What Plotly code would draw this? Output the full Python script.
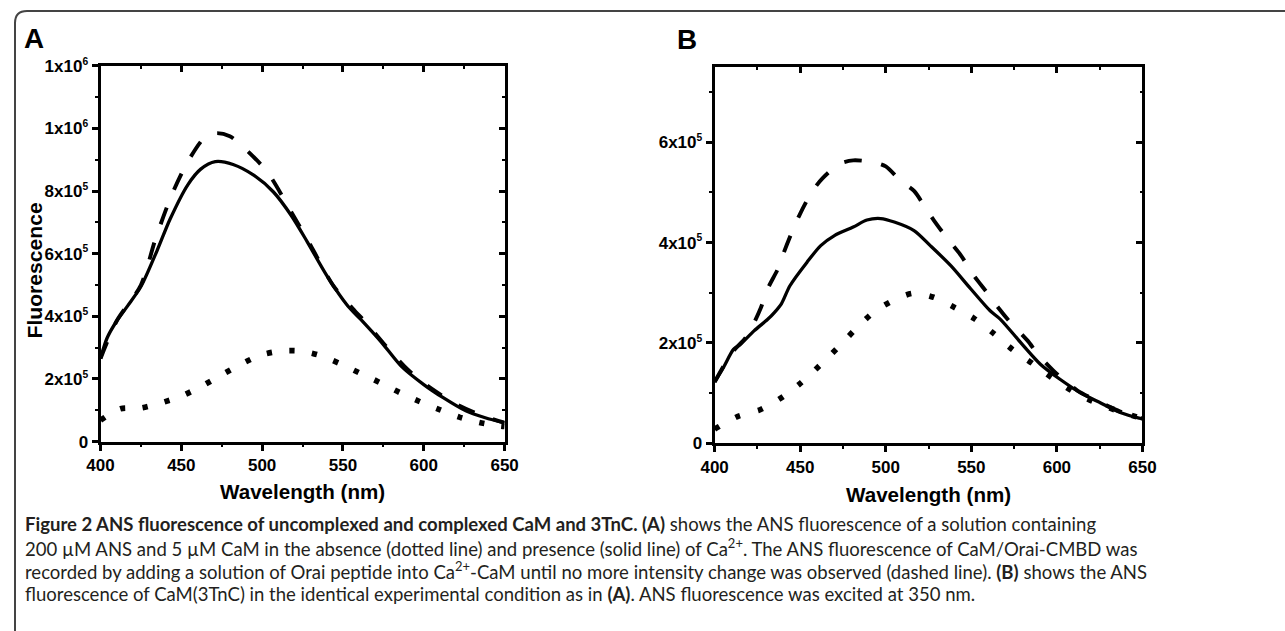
import plotly.graph_objects as go

# ---------------- data ----------------
# Panel A (CaM)
a_solid_x = [400, 404, 410, 417, 425, 435, 443, 454, 462, 471, 482, 495, 507, 518, 528, 540, 553, 561, 574, 586, 600, 612, 626, 638, 650]
a_solid_y = [2.65e5, 3.3e5, 3.85e5, 4.35e5, 4.95e5, 6.1e5, 7.1e5, 8.2e5, 8.7e5, 8.94e5, 8.85e5, 8.5e5, 7.97e5, 7.22e5, 6.37e5,
             5.3e5, 4.33e5, 3.9e5, 3.16e5, 2.41e5, 1.82e5, 1.4e5, 0.98e5, 0.76e5, 0.6e5]
a_dash_x = [400, 410, 425, 434, 444, 454, 465, 472, 480, 487, 503, 518, 530, 544, 556, 565, 575, 590, 605, 620, 635, 650]
a_dash_y = [2.65e5, 3.85e5, 5.0e5, 6.47e5, 7.87e5, 8.94e5, 9.74e5, 9.85e5, 9.75e5, 9.47e5, 8.62e5, 7.33e5, 6.26e5, 4.98e5,
            4.25e5, 3.75e5, 3.14e5, 2.3e5, 1.68e5, 1.2e5, 0.85e5, 0.6e5]
a_dot_x = [400, 412.4, 424.8, 437.1, 449.5, 461.9, 474.3, 486.6, 499, 511.4, 523.8, 535.7, 548.1, 560.3, 572.6, 585, 597.3,
           609.7, 622, 634.4, 646.4, 650]
a_dot_y = [0.68e5, 1.05e5, 1.07e5, 1.23e5, 1.44e5, 1.75e5, 2.11e5, 2.46e5, 2.76e5, 2.89e5, 2.89e5, 2.75e5, 2.49e5, 2.19e5,
           1.89e5, 1.57e5, 1.28e5, 1.02e5, 0.78e5, 0.61e5, 0.5e5, 0.48e5]

# Panel B (CaM(3TnC))
b_solid_x = [400, 405, 411, 415, 423, 431, 435, 439, 444, 454, 462, 470, 481, 489, 497, 505, 516.5, 526, 538, 549.6, 561, 567,
             579, 590.5, 602, 614, 625.6, 637, 648, 650]
b_solid_y = [1.22e5, 1.5e5, 1.87e5, 1.97e5, 2.24e5, 2.47e5, 2.61e5, 2.78e5, 3.14e5, 3.61e5, 3.94e5, 4.14e5, 4.31e5, 4.45e5,
             4.48e5, 4.41e5, 4.24e5, 3.94e5, 3.54e5, 3.08e5, 2.64e5, 2.47e5, 2.0e5, 1.57e5, 1.27e5, 1.0e5, 0.8e5, 0.61e5,
             0.5e5, 0.49e5]
b_dash_x = [400, 410, 418, 423, 427, 431, 437, 440.5, 446, 450, 457, 463, 473, 481, 493, 500, 509, 516.5, 524, 528, 536, 544,
            551.5, 559, 566, 572, 583, 589, 600, 612, 625, 637, 650]
b_dash_y = [1.22e5, 1.8e5, 2.1e5, 2.4e5, 2.7e5, 3.08e5, 3.48e5, 3.81e5, 4.28e5, 4.58e5, 5.02e5, 5.28e5, 5.57e5, 5.64e5, 5.6e5,
            5.52e5, 5.22e5, 5.03e5, 4.65e5, 4.45e5, 4.08e5, 3.74e5, 3.34e5, 3.01e5, 2.69e5, 2.44e5, 2.04e5, 1.77e5, 1.38e5,
            1.05e5, 0.82e5, 0.63e5, 0.49e5]
b_dot_x = [400, 413.3, 425.3, 437.4, 449.3, 461.4, 471.5, 481.4, 492.5, 504, 516, 528, 540, 551.5, 563, 574, 585.7, 597.4,
           610, 622, 635, 650]
b_dot_y = [0.28e5, 0.53e5, 0.65e5, 0.87e5, 1.17e5, 1.55e5, 1.89e5, 2.24e5, 2.6e5, 2.84e5, 2.99e5, 2.91e5, 2.71e5, 2.49e5,
           2.19e5, 1.87e5, 1.59e5, 1.3e5, 1.02e5, 0.82e5, 0.65e5, 0.49e5]

x_ticks = [400, 450, 500, 550, 600, 650]
a_y_ticks = [0, 2e5, 4e5, 6e5, 8e5, 1.0e6, 1.2e6]
a_y_labels = [("0", ""), ("2x10", "5"), ("4x10", "5"), ("6x10", "5"), ("8x10", "5"), ("1x10", "6"), ("1x10", "6")]
b_y_ticks = [0, 2e5, 4e5, 6e5]
b_y_labels = [("0", ""), ("2x10", "5"), ("4x10", "5"), ("6x10", "5")]

x_title = "Wavelength (nm)"
y_title = "Fluorescence"
caption_lines = [
    "<b>Figure 2 ANS fluorescence of uncomplexed and complexed CaM and 3TnC. (A)</b> shows the ANS fluorescence of a solution containing",
    "200 µM ANS and 5 µM CaM in the absence (dotted line) and presence (solid line) of Ca<sup>2+</sup>. The ANS fluorescence of CaM/Orai-CMBD was",
    "recorded by adding a solution of Orai peptide into Ca<sup>2+</sup>-CaM until no more intensity change was observed (dashed line). <b>(B)</b> shows the ANS",
    "fluorescence of CaM(3TnC) in the identical experimental condition as in <b>(A)</b>. ANS fluorescence was excited at 350 nm.",
]

# ---------------- layout geometry ----------------
# The page is photographed with a small border and rescaled; positions below are
# given in reference-picture pixels and mapped back to figure pixels.
FW, FH = 1285, 631
SX, SY, OX, OY = 0.978, 0.963, 13.5, 12.5
S = (SX + SY) / 2
def fx(x):
    return (x - OX) / SX
def fy(y):
    return (y - OY) / SY
def px(x):
    return fx(x) / FW
def py(y):
    return 1 - fy(y) / FH
def sz(v):
    return v / S

def sci_label(mant, exp):
    if not exp:
        return mant
    return f"{mant}<sup><span style='font-size:{sz(10):.1f}px'>{exp}</span></sup>"

a_y_text = [sci_label(m, e) for m, e in a_y_labels]
b_y_text = [sci_label(m, e) for m, e in b_y_labels]

AX = dict(l=100, r=504, t=68, b=441.7)
BX = dict(l=714, r=1141.7, t=69.3, b=443.3)

ARIAL = "Liberation Sans, Arial, sans-serif"
tickfont = dict(family=ARIAL, size=sz(16.5), color="black", weight="bold")

fig = go.Figure()

def dash(on, off):
    return f"{sz(on):.1f}px,{sz(off):.1f}px"

def add_panel(xs, ys, dashes, xa, ya):
    for x, y, (d, width) in zip(xs, ys, dashes):
        fig.add_trace(go.Scatter(x=x, y=y, mode="lines", xaxis=xa, yaxis=ya, showlegend=False,
                                 line=dict(color="black", width=sz(width), dash=d, shape="spline", smoothing=0.8),
                                 hoverinfo="skip"))

add_panel([a_solid_x, a_dash_x, a_dot_x], [a_solid_y, a_dash_y, a_dot_y],
          [("solid", 3.2), (dash(17, 19), 3.8), (dash(5, 17), 5.5)], "x", "y")
add_panel([b_solid_x, b_dash_x, b_dot_x], [b_solid_y, b_dash_y, b_dot_y],
          [("solid", 3.2), (dash(17, 19), 3.8), (dash(5, 18), 5.5)], "x2", "y2")

# empty helper traces so the mirrored (top / right) axes with inward ticks get drawn
fig.add_trace(go.Scatter(x=[], y=[], xaxis="x3", yaxis="y3", showlegend=False, hoverinfo="skip"))
fig.add_trace(go.Scatter(x=[], y=[], xaxis="x4", yaxis="y4", showlegend=False, hoverinfo="skip"))

LW, TL, TW, ML, MW = sz(2.5), sz(6), sz(2.5), sz(3), sz(2)

def xaxis_main(dom, anchor):
    return dict(domain=dom, anchor=anchor, range=[400, 650], tickvals=x_ticks, ticks="outside", ticklen=TL, tickwidth=TW,
                tickcolor="black", showline=True, linewidth=LW, linecolor="black", mirror=False, showgrid=False,
                zeroline=False, tickfont=tickfont,
                minor=dict(ticks="outside", ticklen=ML, tickwidth=MW, dtick=25, tick0=400, tickcolor="black", showgrid=False))

def xaxis_top(over, anchor):
    return dict(overlaying=over, anchor=anchor, side="top", range=[400, 650], tickvals=x_ticks, ticks="inside", ticklen=TL,
                tickwidth=TW, tickcolor="black", showline=True, linewidth=LW, linecolor="black", showgrid=False,
                zeroline=False, showticklabels=False,
                minor=dict(ticks="inside", ticklen=ML, tickwidth=MW, dtick=25, tick0=400, tickcolor="black", showgrid=False))

def yaxis_main(dom, anchor, rng, tv, tt):
    return dict(domain=dom, anchor=anchor, range=rng, tickvals=tv, ticktext=tt, ticks="outside", ticklen=TL, tickwidth=TW,
                tickcolor="black", showline=True, linewidth=LW, linecolor="black", showgrid=False, zeroline=False,
                tickfont=tickfont,
                minor=dict(ticks="outside", ticklen=ML, tickwidth=MW, dtick=1e5, tick0=0, tickcolor="black", showgrid=False))

def yaxis_right(over, anchor, rng, tv):
    return dict(overlaying=over, anchor=anchor, side="right", range=rng, tickvals=tv, ticks="inside", ticklen=TL,
                tickwidth=TW, tickcolor="black", showline=True, linewidth=LW, linecolor="black", showgrid=False,
                zeroline=False, showticklabels=False,
                minor=dict(ticks="inside", ticklen=ML, tickwidth=MW, dtick=1e5, tick0=0, tickcolor="black", showgrid=False))

fig.update_layout(
    width=FW, height=FH, autosize=False, margin=dict(l=0, r=0, t=0, b=0, pad=0),
    paper_bgcolor="white", plot_bgcolor="white",
    xaxis=xaxis_main([px(AX["l"]), px(AX["r"])], "y"),
    yaxis=yaxis_main([py(AX["b"]), py(AX["t"])], "x", [0, 1.2e6], a_y_ticks, a_y_text),
    xaxis2=xaxis_main([px(BX["l"]), px(BX["r"])], "y2"),
    yaxis2=yaxis_main([py(BX["b"]), py(BX["t"])], "x2", [0, 7.5e5], b_y_ticks, b_y_text),
    xaxis3=xaxis_top("x", "y"),
    yaxis3=yaxis_right("y", "x", [0, 1.2e6], a_y_ticks),
    xaxis4=xaxis_top("x2", "y2"),
    yaxis4=yaxis_right("y2", "x2", [0, 7.5e5], b_y_ticks),
)

ann = []
def txt(x, y, text, size, bold=True, angle=0, family=ARIAL, xanchor="center", color="black"):
    ann.append(dict(x=px(x), y=py(y), xref="paper", yref="paper", text=text, showarrow=False, textangle=angle,
                    xanchor=xanchor, yanchor="middle",
                    font=dict(family=family, size=sz(size), color=color, weight="bold" if bold else "normal")))

txt(33, 41, "A", 27)
txt(686, 42, "B", 27)
txt(34, 272, y_title, 20.5, angle=-90)
txt(302, 491, x_title, 20)
txt(928, 494, x_title, 20)

CAP = "Lato, Open Sans, sans-serif"
for i, line in enumerate(caption_lines):
    txt(22, 524 + 23 * i, line, 18.0, bold=False, family=CAP, xanchor="left", color="#231f20")
fig.update_layout(annotations=ann)

# frame with rounded top-left corner (left part falls in the photo border, so clamp to the page)
x0 = max(8, OX + 1)
yt = max(13, OY + 1)
r = 12
path = (f"M {px(x0)},{py(800)} L {px(x0)},{py(yt + r)} Q {px(x0)},{py(yt)} {px(x0 + r)},{py(yt)} "
        f"L {px(1500)},{py(yt)}")
fig.add_shape(type="path", path=path, xref="paper", yref="paper", line=dict(color="#444444", width=2))

fig.write_html("out.html", config={"displayModeBar": False, "responsive": False},
               post_script="document.body.style.margin='0';document.body.style.padding='0';document.body.style.overflow='hidden';")
